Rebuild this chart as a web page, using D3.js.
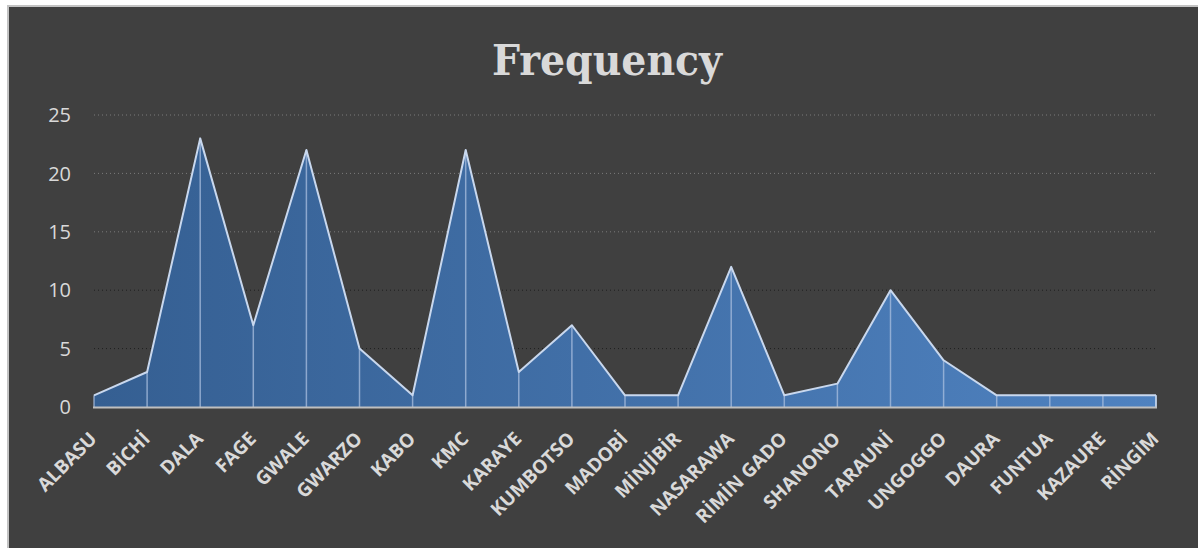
<!DOCTYPE html>
<html><head><meta charset="utf-8">
<script src="https://cdn.jsdelivr.net/npm/d3@7/dist/d3.min.js"></script>
<style>html,body{margin:0;padding:0;background:#fff;overflow:hidden}</style>
</head><body>
<svg id="c" width="1198" height="548"></svg>
<script>
const categories = ["ALBASU","BİCHİ","DALA","FAGE","GWALE","GWARZO","KABO","KMC","KARAYE","KUMBOTSO","MADOBİ","MİNJİBİR","NASARAWA","RİMİN GADO","SHANONO","TARAUNİ","UNGOGGO","DAURA","FUNTUA","KAZAURE","RİNGİM"];
const frequency = [1,3,23,7,22,5,1,22,3,7,1,1,12,1,2,10,4,1,1,1,1];
const yTicks = [0,5,10,15,20,25];
const title = "Frequency";

const svg = d3.select("#c");
// chart background and border
svg.append("rect").attr("x",7).attr("y",5).attr("width",1198).attr("height",548).attr("fill","#404040");
svg.append("line").attr("x1",8).attr("x2",8).attr("y1",5).attr("y2",548).attr("stroke","#c3c3c3").attr("stroke-width",2);
svg.append("line").attr("x1",7).attr("x2",1198).attr("y1",6).attr("y2",6).attr("stroke","#c3c3c3").attr("stroke-width",2);

const x = d3.scalePoint().domain(categories).range([94,1156]);
const y = d3.scaleLinear().domain([0,25]).range([407,115]);

const defs = svg.append("defs");
const g = defs.append("linearGradient").attr("id","fillg").attr("gradientUnits","userSpaceOnUse")
  .attr("x1",94).attr("x2",1156).attr("y1",0).attr("y2",0);
g.append("stop").attr("offset","0%").attr("stop-color","#355f92");
g.append("stop").attr("offset","100%").attr("stop-color","#4f82c0");

// gridlines
yTicks.filter(t=>t>0).forEach(t=>{
  svg.append("line").attr("x1",94).attr("x2",1156).attr("y1",y(t)).attr("y2",y(t))
    .attr("stroke", t>=15 ? "#7a7a7a" : "#1e1e1e").attr("stroke-width",1)
    .attr("stroke-dasharray","1,3");
});

// y axis labels
svg.append("g").selectAll("text").data(yTicks).join("text")
  .attr("x",71).attr("y",d=>y(d)).attr("dy","0.36em").attr("text-anchor","end")
  .attr("fill","#d9d9d9").attr("font-family","'Open Sans', sans-serif").attr("font-size",20)
  .text(d=>d);

const data = categories.map((c,i)=>({c, v:frequency[i]}));
const area = d3.area().x(d=>x(d.c)).y0(y(0)).y1(d=>y(d.v));
svg.append("path").datum(data).attr("d",area).attr("fill","url(#fillg)");

// drop lines
svg.append("g").selectAll("line").data(data).join("line")
  .attr("x1",d=>x(d.c)).attr("x2",d=>x(d.c)).attr("y1",d=>y(d.v)).attr("y2",y(0))
  .attr("stroke","#a9bfdf").attr("stroke-opacity",0.75).attr("stroke-width",1.5);

// top outline
const line = d3.line().x(d=>x(d.c)).y(d=>y(d.v));
svg.append("path").datum(data).attr("d",line).attr("fill","none")
  .attr("stroke","#c9d8ee").attr("stroke-width",2).attr("stroke-linejoin","round");
// right edge
svg.append("line").attr("x1",x(categories[categories.length-1])).attr("x2",x(categories[categories.length-1]))
  .attr("y1",y(frequency[frequency.length-1])).attr("y2",y(0)).attr("stroke","#c9d8ee").attr("stroke-width",1.5);

// axis line
svg.append("line").attr("x1",93).attr("x2",1157).attr("y1",y(0)+0.5).attr("y2",y(0)+0.5)
  .attr("stroke","#bfbfbf").attr("stroke-width",2);

// x labels
svg.append("g").selectAll("text").data(categories).join("text")
  .attr("transform",d=>`translate(${x(d)+4},${y(0)+33}) rotate(-45)`)
  .attr("text-anchor","end")
  .attr("fill","#d9d9d9").attr("font-family","'Open Sans', sans-serif").attr("font-weight","bold").attr("font-size",19)
  .text(d=>d);

// title
svg.append("text").attr("x",607).attr("y",75).attr("text-anchor","middle")
  .attr("fill","#d9d9d9").attr("font-family","'DejaVu Serif Condensed','DejaVu Serif',serif").attr("font-weight","bold")
  .attr("font-size",43).attr("textLength",230).attr("lengthAdjust","spacingAndGlyphs").text(title);
</script>
</body></html>
